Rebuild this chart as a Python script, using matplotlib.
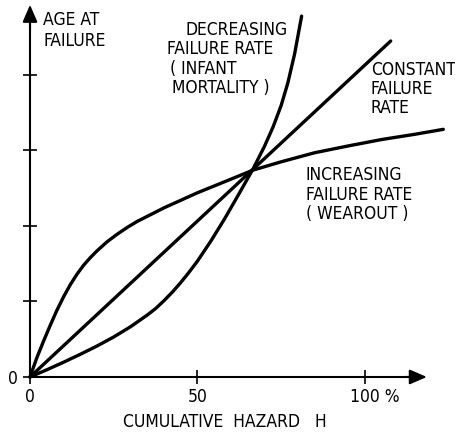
import matplotlib
matplotlib.use("Agg")
import matplotlib.pyplot as plt  # noqa: E402
from matplotlib import font_manager  # noqa: E402
from matplotlib.font_manager import FontProperties  # noqa: E402
from matplotlib.transforms import ScaledTranslation  # noqa: E402

# cumulative hazard H (%) against age at failure (one unit per y tick)
H_CONST = [0, 107.7]
AGE_CONST = [0, 4.45]

H_WEAR = [0, 2, 4, 6, 8, 10, 12, 14, 16, 18, 20, 23, 26, 29, 32, 36, 40, 45,
          50, 55, 60, 66.6, 75, 85, 95, 105, 115, 123.4]
AGE_WEAR = [0, 0.25, 0.47, 0.68, 0.88, 1.06, 1.22, 1.36, 1.48, 1.58, 1.67,
            1.79, 1.89, 1.98, 2.06, 2.15, 2.24, 2.34, 2.44, 2.53, 2.62, 2.74,
            2.85, 2.97, 3.06, 3.145, 3.215, 3.28]

H_INFANT = [0, 5, 10, 15, 20, 25, 30, 35, 37.5, 40, 42.5, 45, 47.5, 50, 54,
            58, 62, 66.6, 70, 72.6, 75, 77, 79, 81.1]
AGE_INFANT = [0, 0.095, 0.195, 0.30, 0.41, 0.53, 0.665, 0.82, 0.906, 1.01,
              1.124, 1.25, 1.388, 1.535, 1.80, 2.087, 2.395, 2.755, 3.054,
              3.314, 3.597, 3.897, 4.277, 4.78]

X_TICKS = [0, 50, 100]
X_TICKLABELS = ["0", "50", "100 %"]
Y_TICKS = [0, 1, 2, 3, 4]
Y_TICKLABELS = ["0", "", "", "", ""]


def lettering_font(size):
    """Narrow sans for the hand-lettered labels, if one is installed."""
    for f in font_manager.fontManager.ttflist:
        fn = f.fname.lower()
        if "dejavusanscondensed.ttf" in fn or "liberationsansnarrow-regular" in fn:
            return FontProperties(fname=f.fname, size=size)
    return FontProperties(family="DejaVu Sans", size=size - 1)


FP = lettering_font(12.5)

fig = plt.figure(figsize=(4.55, 4.33), dpi=100)
ax = fig.add_axes([0, 0, 1, 1])
ax.set_xlim(-8.96, 126.9)
ax.set_ylim(-0.742, 4.993)

# axes drawn through the origin, with arrowheads at the far ends
for side in ("top", "right"):
    ax.spines[side].set_visible(False)
ax.spines["left"].set_position(("data", 0))
ax.spines["bottom"].set_position(("data", 0))
ax.spines["left"].set_bounds(0, 4.8)
ax.spines["bottom"].set_bounds(0, 116)
for side in ("left", "bottom"):
    ax.spines[side].set_linewidth(1.5)

head = dict(arrowstyle="-|>,head_length=0.65,head_width=0.28", color="k",
            lw=1.5, mutation_scale=16, shrinkA=0, shrinkB=0)
ax.annotate("", xy=(0, 4.93), xytext=(0, 4.6), arrowprops=head)
ax.annotate("", xy=(118.5, 0), xytext=(112, 0), arrowprops=head)

ax.set_xticks(X_TICKS)
ax.set_xticklabels(X_TICKLABELS, fontproperties=FP)
ax.set_yticks(Y_TICKS)
ax.set_yticklabels(Y_TICKLABELS, fontproperties=FP)
ax.tick_params(direction="inout", length=10, width=1.2)
ax.tick_params(axis="x", pad=3)
ax.tick_params(axis="y", pad=4)
shift = ScaledTranslation(0.10, 0, fig.dpi_scale_trans)
lbl = ax.get_xticklabels()[-1]
lbl.set_transform(lbl.get_transform() + shift)

line_kw = dict(color="k", lw=2.4, solid_capstyle="round",
               solid_joinstyle="round")
ax.plot(H_CONST, AGE_CONST, **line_kw)
ax.plot(H_WEAR, AGE_WEAR, **line_kw)
ax.plot(H_INFANT, AGE_INFANT, **line_kw)

ax.text(3.9, 4.586, "AGE AT\nFAILURE", fontproperties=FP, va="center",
        linespacing=1.18)
ax.text(46.3, 4.60, "DECREASING", fontproperties=FP, va="center")
ax.text(40.9, 4.34, "FAILURE RATE", fontproperties=FP, va="center")
ax.text(41.8, 4.08, "( INFANT", fontproperties=FP, va="center")
ax.text(42.4, 3.83, "MORTALITY )", fontproperties=FP, va="center")
ax.text(101.8, 3.81, "CONSTANT\nFAILURE\nRATE", fontproperties=FP,
        va="center", linespacing=1.07)
ax.text(82.4, 2.415, "INCREASING\nFAILURE RATE\n( WEAROUT )",
        fontproperties=FP, va="center", linespacing=1.1)
ax.text(58.2, -0.60, "CUMULATIVE  HAZARD   H", fontproperties=FP,
        ha="center", va="center")

fig.savefig("out.png", dpi=100)
